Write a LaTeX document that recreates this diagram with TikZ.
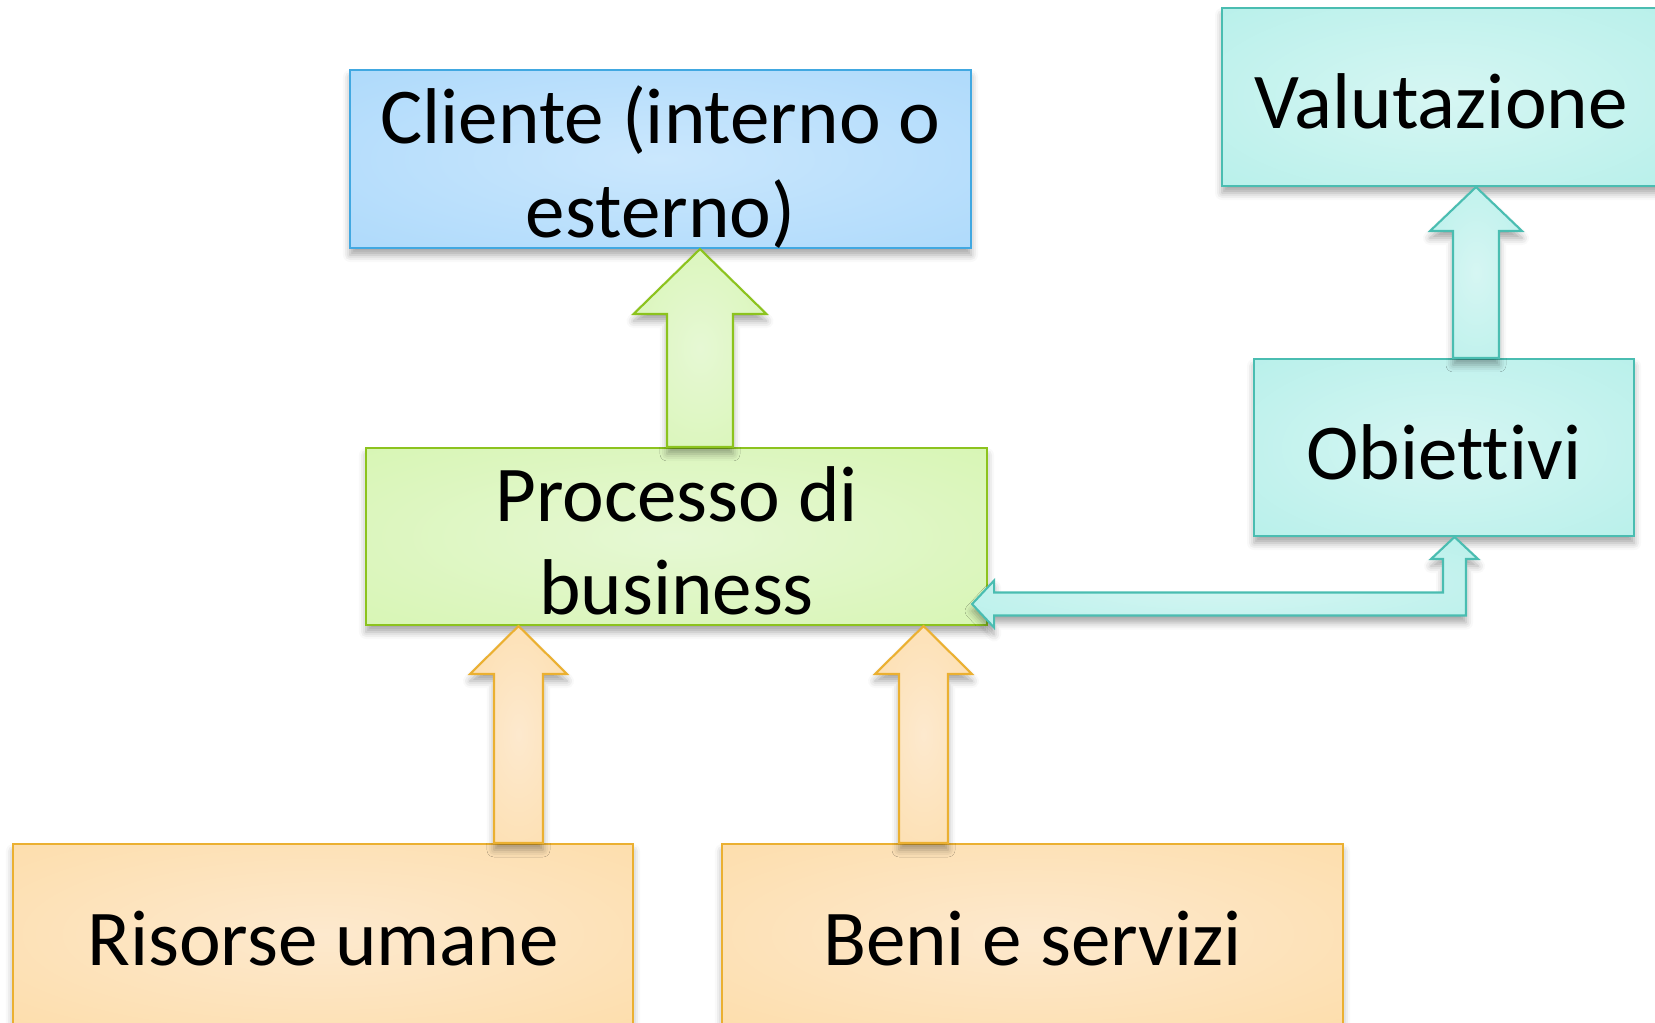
\documentclass[tikz,border=0pt]{standalone}
\usepackage{fontspec}
\setmainfont{Carlito}[Ligatures=NoCommon]
\usetikzlibrary{calc,shadows.blur}
\definecolor{blueline}{HTML}{41A8E1}
\definecolor{bluein}{HTML}{CAE7FD}
\definecolor{blueout}{HTML}{A0D3FA}
\definecolor{greenline}{HTML}{8CC31E}
\definecolor{greenin}{HTML}{E6F8D4}
\definecolor{greenout}{HTML}{D0F4A4}
\definecolor{tealline}{HTML}{4ABDB1}
\definecolor{tealin}{HTML}{D6F6F3}
\definecolor{tealout}{HTML}{A9EDE6}
\definecolor{orangeline}{HTML}{EBB031}
\definecolor{orangein}{HTML}{FDE9CE}
\definecolor{orangeout}{HTML}{FDD89B}
\pgfdeclareradialshading{blueshade}{\pgfpoint{0bp}{0bp}}{color(0bp)=(bluein); color(55bp)=(blueout); color(80bp)=(blueout)}
\pgfdeclareradialshading{greenshade}{\pgfpoint{0bp}{0bp}}{color(0bp)=(greenin); color(55bp)=(greenout); color(80bp)=(greenout)}
\pgfdeclareradialshading{tealshade}{\pgfpoint{0bp}{0bp}}{color(0bp)=(tealin); color(55bp)=(tealout); color(80bp)=(tealout)}
\pgfdeclareradialshading{orangeshade}{\pgfpoint{0bp}{0bp}}{color(0bp)=(orangein); color(55bp)=(orangeout); color(80bp)=(orangeout)}
\tikzset{
	softshadow/.style={
			blur shadow={shadow xshift=0pt, shadow yshift=-2pt, shadow blur radius=2pt, shadow opacity=35}
		},
	box/.style={draw, line width=0.6pt, minimum height=1.78cm, inner xsep=0pt, inner ysep=-3pt,
			align=center, font=\fontsize{22.5}{26.6}\selectfont, softshadow},
	bluebox/.style={box, draw=blueline, shade, shading=blueshade},
	greenbox/.style={box, draw=greenline, shade, shading=greenshade},
	tealbox/.style={box, draw=tealline, shade, shading=tealshade},
	orangebox/.style={box, draw=orangeline, shade, shading=orangeshade},
	blockarrow/.style={line width=0.6pt, line join=miter, softshadow},
	greenarrow/.style={blockarrow, draw=greenline, shade, shading=greenshade},
	tealarrow/.style={blockarrow, draw=tealline, shade, shading=tealshade},
	orangearrow/.style={blockarrow, draw=orangeline, shade, shading=orangeshade}
}
% fixed line height and depth, so that every label sits alike in its box
\newcommand{\padtext}[1]{\rule{0pt}{23.5pt}#1\rule[-5.5pt]{0pt}{5.5pt}}
% upward block arrow: style, start, target, half shaft, half head, head length
\newcommand{\upblock}[6]{%
	\draw[#1] let \p1=#2, \p2=#3 in
		(\x1-#4,\y1) -- (\x1-#4,\y2-#6) -- (\x1-#5,\y2-#6) -- (\x1,\y2)
		-- (\x1+#5,\y2-#6) -- (\x1+#4,\y2-#6) -- (\x1+#4,\y1) -- cycle;}

\begin{document}
\begin{tikzpicture}
			\useasboundingbox (0,0) rectangle (16.55,10.22);
			\clip (0,0) rectangle (16.55,10.22);
			% Boxes
			\node[bluebox, minimum width=6.21cm] (cli) at (6.605,8.63) {\padtext{Cliente (interno o\\esterno)}};
			\node[tealbox, minimum width=4.38cm] (val) at (14.41,9.25) {\padtext{Valutazione}};
			\node[greenbox, minimum width=6.21cm, minimum height=1.77cm] (proc) at (6.765,4.855) {\padtext{Processo di\\business}};
			\node[tealbox, minimum width=3.80cm, minimum height=1.77cm] (obi) at (14.44,5.745) {\padtext{Obiettivi}};
			\node[orangebox, minimum width=6.20cm, minimum height=1.80cm] (ris) at (3.23,0.88) {\padtext{Risorse umane}};
			\node[orangebox, minimum width=6.21cm, minimum height=1.80cm] (beni) at (10.325,0.88) {\padtext{Beni e servizi}};
			% Arrows up
			\upblock{greenarrow}{($(proc.north)+(0.235,0)$)}{(cli.south)}{0.33cm}{0.665cm}{0.65cm}
			\upblock{orangearrow}{($(ris.north)+(1.955,0)$)}{(proc.south)}{0.245cm}{0.485cm}{0.48cm}
			\upblock{orangearrow}{($(beni.north)+(-1.09,0)$)}{(proc.south)}{0.245cm}{0.485cm}{0.48cm}
			\upblock{tealarrow}{($(obi.north)+(0.32,0)$)}{(val.south)}{0.23cm}{0.46cm}{0.44cm}
			% Feedback between objectives and process
			\draw[tealarrow] let \p1=($(proc.south east)+(-0.16,0.22)$), \p2=($(obi.south)+(0.105,0)$) in
				(\x1,\y1) -- (\x1+0.22cm,\y1+0.235cm) -- (\x1+0.22cm,\y1+0.115cm)
				-- (\x2-0.115cm,\y1+0.115cm) -- (\x2-0.115cm,\y2-0.22cm) -- (\x2-0.235cm,\y2-0.22cm)
				-- (\x2,\y2) -- (\x2+0.235cm,\y2-0.22cm) -- (\x2+0.115cm,\y2-0.22cm)
				-- (\x2+0.115cm,\y1-0.115cm) -- (\x1+0.22cm,\y1-0.115cm) -- (\x1+0.22cm,\y1-0.235cm) -- cycle;
		\end{tikzpicture}
\end{document}
